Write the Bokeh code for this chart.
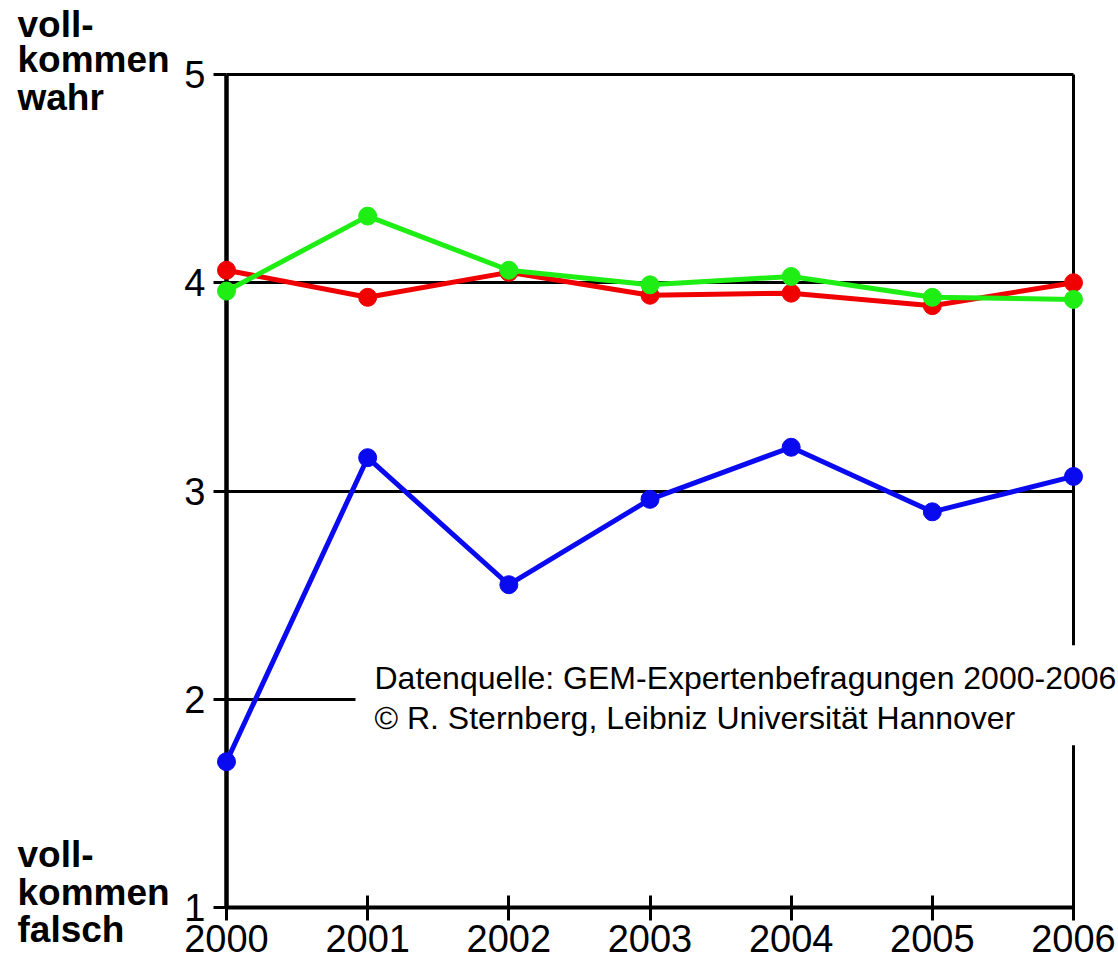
from bokeh.plotting import figure
from bokeh.models import (Range1d, Label, BoxAnnotation, FixedTicker)
from bokeh.embed import file_html
from bokeh.resources import INLINE

# ---------------- data ----------------
years = [2000, 2001, 2002, 2003, 2004, 2005, 2006]
x_tick_labels = ["2000", "2001", "2002", "2003", "2004", "2005", "2006"]
red_values = [4.06, 3.93, 4.05, 3.94, 3.95, 3.89, 4.00]
green_values = [3.96, 4.32, 4.06, 3.99, 4.03, 3.93, 3.92]
blue_values = [1.70, 3.16, 2.55, 2.96, 3.21, 2.90, 3.07]
y_ticks = [1, 2, 3, 4, 5]
top_caption = ["voll-", "kommen", "wahr"]
bottom_caption = ["voll-", "kommen", "falsch"]
source_lines = ["Datenquelle: GEM-Expertenbefragungen 2000-2006",
                "\u00a9 R. Sternberg, Leibniz Universit\u00e4t Hannover"]

# ---------------- layout / styling ----------------
FONT = "Liberation Sans"
RED = "#f00000"
GREEN = "#1eee14"
BLUE = "#0a0af0"

W, H = 1118, 966
AX_L, AX_R, AX_T, AX_B = 226, 1073, 74, 907      # pixel box of the axes
xmin, xmax = years[0], years[-1]
ymin, ymax = y_ticks[0], y_ticks[-1]
ppx = (AX_R - AX_L) / (xmax - xmin)
ppy = (AX_B - AX_T) / (ymax - ymin)

p = figure(width=W, height=H, title=None,
           x_range=Range1d(xmin - AX_L / ppx, xmax + (W - AX_R) / ppx),
           y_range=Range1d(ymin - (H - AX_B) / ppy, ymax + AX_T / ppy),
           output_backend="svg", toolbar_location=None,
           min_border_left=0, min_border_right=0,
           min_border_top=0, min_border_bottom=0)
p.outline_line_color = None
p.background_fill_color = "white"
p.border_fill_color = "white"

# x axis
xa = p.xaxis[0]
xa.fixed_location = ymin
xa.bounds = (xmin, xmax)
xa.ticker = FixedTicker(ticks=years)
xa.major_label_overrides = {y: t for y, t in zip(years, x_tick_labels)}
xa.axis_line_width = 4
xa.axis_line_color = "black"
xa.major_tick_line_width = 3
xa.major_tick_line_color = "black"
xa.major_tick_in = 12
xa.major_tick_out = 13
xa.minor_tick_line_color = None
xa.major_label_text_font = FONT
xa.major_label_text_font_size = "38px"
xa.major_label_text_color = "black"
xa.major_label_standoff = 4
xa.level = "underlay"

# y axis
ya = p.yaxis[0]
ya.fixed_location = xmin
ya.bounds = (ymin, ymax)
ya.ticker = FixedTicker(ticks=y_ticks)
ya.axis_line_width = 4.5
ya.axis_line_color = "black"
ya.major_tick_line_width = 3
ya.major_tick_line_color = "black"
ya.major_tick_in = 0
ya.major_tick_out = 13
ya.minor_tick_line_color = None
ya.major_label_text_font = FONT
ya.major_label_text_font_size = "38px"
ya.major_label_text_color = "black"
ya.major_label_standoff = 8
ya.level = "underlay"

# grid: horizontal lines and right border
p.ygrid.ticker = FixedTicker(ticks=y_ticks[1:])
p.ygrid.cross_bounds = (xmin, xmax)
p.ygrid.grid_line_color = "black"
p.ygrid.grid_line_width = 3
p.ygrid.grid_line_alpha = 1.0
p.xgrid.ticker = FixedTicker(ticks=[xmax])
p.xgrid.cross_bounds = (ymin, ymax)
p.xgrid.grid_line_color = "black"
p.xgrid.grid_line_width = 3
p.xgrid.grid_line_alpha = 1.0

# series
for vals, col in ((blue_values, BLUE), (red_values, RED), (green_values, GREEN)):
    p.line(years, vals, line_color=col, line_width=5)
    p.scatter(years, vals, size=18, color=col)

# captions
for txt, yo in zip(top_caption, [50, 15, -23]):
    p.add_layout(Label(x=xmin, y=ymax, x_offset=-209, y_offset=yo,
                       text=txt, text_font=FONT, text_font_size="37px",
                       text_font_style="bold", text_color="black",
                       text_align="left", text_baseline="middle"))
for txt, yo in zip(bottom_caption, [53, 15, -22]):
    p.add_layout(Label(x=xmin, y=ymin, x_offset=-209, y_offset=yo,
                       text=txt, text_font=FONT, text_font_size="37px",
                       text_font_style="bold", text_color="black",
                       text_align="left", text_baseline="middle"))

# source box
p.add_layout(BoxAnnotation(left=xmin + 129 / ppx, right=xmax + 2,
                           top=2 + 54 / ppy, bottom=2 - 46 / ppy,
                           fill_color="white", fill_alpha=1.0, line_color=None))
for txt, xo, yo in zip(source_lines, [148, 148], [21, -19]):
    p.add_layout(Label(x=xmin, y=2, x_offset=xo, y_offset=yo, text=txt,
                       text_font=FONT, text_font_size="32px", text_color="black",
                       text_align="left", text_baseline="middle"))

open("out.html", "w").write(file_html(p, INLINE))
